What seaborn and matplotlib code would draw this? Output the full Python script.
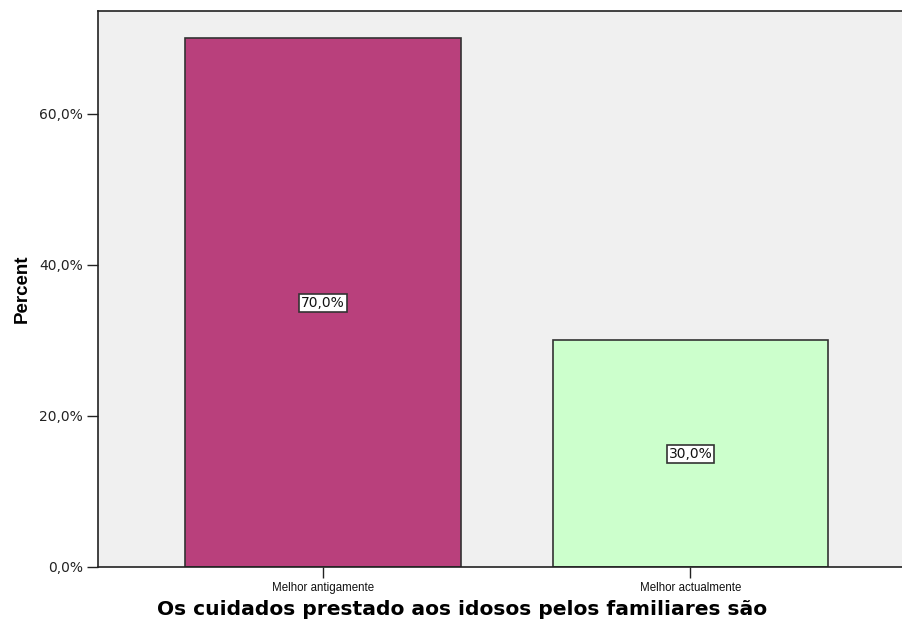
import matplotlib
matplotlib.use("Agg")
import matplotlib.pyplot as plt
import seaborn as sns
import pandas as pd

categories = ["Melhor antigamente", "Melhor actualmente"]
percents = [70.0, 30.0]
bar_colors = ["#B9407C", "#CCFFCC"]
yticks = [0, 20, 40, 60]

df = pd.DataFrame({"cat": categories, "pct": percents})

sns.set_style("white")
plt.rcParams['font.family'] = ['DejaVu Sans']

fig = plt.figure(figsize=(9.02, 6.3), dpi=100)
ax = fig.add_axes([98 / 902, 63 / 630, 1 - 98 / 902 + 0.01, 556 / 630])
ax.set_facecolor("#F0F0F0")

sns.barplot(data=df, x="cat", y="pct", hue="cat", palette=bar_colors,
            width=0.75, edgecolor="#333333", linewidth=1.2, legend=False,
            saturation=1, ax=ax)

for cont in ax.containers:
    ax.bar_label(cont, labels=[f"{v:.1f}%".replace(".", ",") for v in cont.datavalues],
                 label_type="center", fontsize=10, color="#111111",
                 bbox=dict(boxstyle="square,pad=0.15", fc="white", ec="#333333", lw=1.2))

ax.set_xlim(-0.612, 1.6)
ax.set_ylim(0, 73.6)
ax.set_yticks(yticks)
ax.set_yticklabels([f"{t:.1f}%".replace(".", ",") for t in yticks], fontsize=10, color="#222222")
ax.set_xticks(range(len(categories)))
ax.set_xticklabels(categories, fontsize=8.3, family="Liberation Sans", color="#111111")
ax.tick_params(axis="both", direction="out", length=8, width=1, color="#222222", pad=3)
ax.tick_params(axis="y", left=True)
ax.tick_params(axis="x", bottom=True)

for s in ax.spines.values():
    s.set_color("#222222")
    s.set_linewidth(1.2)

ax.set_ylabel("Percent", fontsize=13.5, fontweight="bold", family="Liberation Sans",
              color="black", labelpad=6)
ax.set_xlabel("Os cuidados prestado aos idosos pelos familiares são",
              fontsize=14.6, fontweight="bold", color="black")
ax.xaxis.set_label_coords(0.448, -0.06)

fig.savefig("out.png", dpi=100)
